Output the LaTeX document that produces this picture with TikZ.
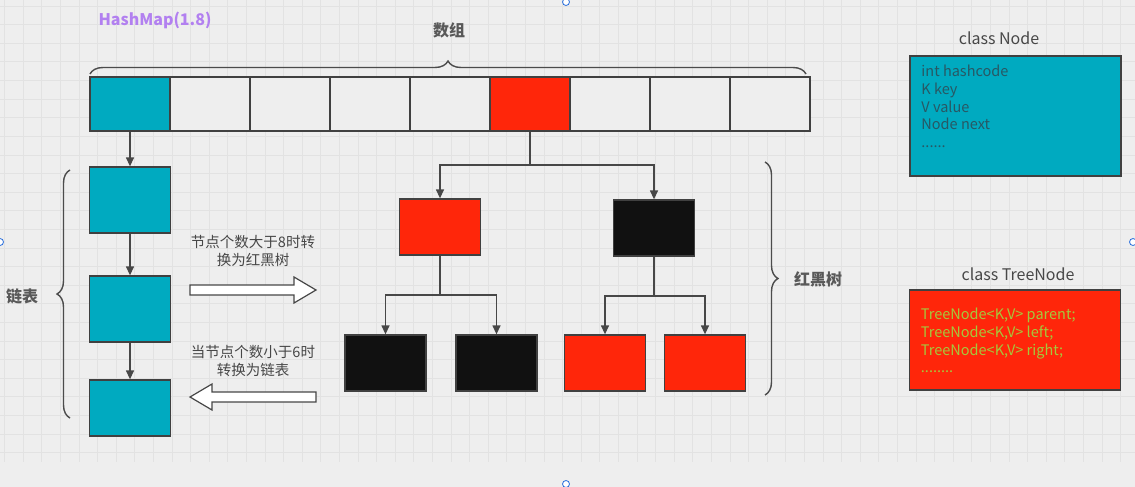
\documentclass[tikz,border=0pt]{standalone}
\usepackage{fontspec}
\setmainfont{Noto Sans CJK SC}
\usepackage{tikz}
\usetikzlibrary{arrows.meta,calc,decorations.pathreplacing}
\definecolor{hmbg}{RGB}{238,238,238}
\definecolor{hmgrid}{RGB}{226,226,226}
\definecolor{hmteal}{RGB}{0,170,192}
\definecolor{hmred}{RGB}{255,38,10}
\definecolor{hmblack}{RGB}{17,17,17}
\definecolor{hmpurple}{RGB}{178,128,240}
\definecolor{hmfield}{RGB}{40,88,100}
\definecolor{hmlime}{RGB}{165,200,60}
\definecolor{hmhandle}{RGB}{40,110,220}

\begin{document}
\begin{tikzpicture}[
    x=1pt,
    y=-1pt,
    every node/.style={font=\fontsize{12}{14}\selectfont, text=black!72},
    box/.style={draw=black!75, line width=1.3pt, inner sep=0pt,
        minimum width=81pt, minimum height=56pt},
    cell/.style={box, minimum width=80pt, minimum height=54pt},
    listnode/.style={box, fill=hmteal},
    rednode/.style={box, fill=hmred},
    blacknode/.style={box, fill=hmblack},
    classbox/.style={box, line width=1.5pt, minimum width=211pt,
        minimum height=120pt},
    fields/.style={anchor=north west, inner sep=0pt, align=left,
        font=\fontsize{14.5}{17.6}\selectfont},
    link/.style={draw=black!72, line width=1.3pt},
    imp/.style={link, -{Triangle[length=9pt,width=8pt]}},
    fat/.style={draw=black!72, line width=1.2pt, fill=white,
        line join=miter},
    brc/.style={draw=black!70, line width=1.4pt, decorate,
        decoration={brace, amplitude=13pt}},
    ann/.style={font=\fontsize{14.5}{17.5}\selectfont, align=center},
    tag/.style={font=\bfseries\fontsize{16}{18}\selectfont, text=black!65},
    caption/.style={font=\fontsize{16}{18}\selectfont},
    gridline/.style={draw=hmgrid, line width=0.6pt},
    handle/.style={draw=hmhandle, fill=white, line width=0.8pt}
]
    \useasboundingbox (0,0) rectangle (1135,487);
    \fill[hmbg] (0,0) rectangle (1135,487);
    \foreach \gx in {4.5,23.1,...,1135}
        \draw[gridline] (\gx,0) -- (\gx,462);
    \foreach \gy in {6,24.6,...,462}
        \draw[gridline] (0,\gy) -- (1135,\gy);

    \node[font=\bfseries\fontsize{16}{18}\selectfont, text=hmpurple]
        (title) at (155,20) {HashMap(1.8)};

    % array
    \foreach \i/\c in {0/hmteal,1/hmbg,2/hmbg,3/hmbg,4/hmbg,5/hmred,6/hmbg,7/hmbg,8/hmbg}
        \node[cell, fill=\c] (a\i) at ({130+80*\i},104) {};
    \draw[brc] (90,74) -- (806,74);
    \node[tag] (arr) at (449,30) {数组};

    % linked list
    \node[listnode, minimum height=66pt] (l1) at (130,200) {};
    \node[listnode, minimum height=66pt] (l2) at (130,309) {};
    \node[listnode] (l3) at (130,408) {};
    \draw[imp] (a0) -- (l1);
    \draw[imp] (l1) -- (l2);
    \draw[imp] (l2) -- (l3);
    \draw[brc] (70,418) -- (70,170);
    \node[tag] (list) at (22,296) {链表};

    % red-black tree
    \node[rednode] (t1) at (440,227) {};
    \node[blacknode] (t2) at (654,228) {};
    \node[blacknode] (b1) at (385.5,363) {};
    \node[blacknode] (b2) at (496.5,363) {};
    \node[rednode] (b3) at (605,363) {};
    \node[rednode] (b4) at (705,363) {};
    \coordinate (j0) at (530,165);
    \coordinate (j1) at (440,295);
    \coordinate (j2) at (654,296);
    \draw[link] (a5) -- (j0);
    \draw[imp] (j0) -| (t1);
    \draw[imp] (j0) -| (t2);
    \draw[link] (t1) -- (j1);
    \draw[imp] (j1) -| (b1);
    \draw[imp] (j1) -| (b2);
    \draw[link] (t2) -- (j2);
    \draw[imp] (j2) -| (b3);
    \draw[imp] (j2) -| (b4);
    \draw[brc] (765,162) -- (765,395);
    \node[tag] (tree) at (818,279) {红黑树};

    % conversions
    \node[ann] (togrow) at (253,251) {节点个数大于8时转\\换为红黑树};
    \draw[fat] (190,285) -- (294,285) -- (294,277) -- (316,290)
        -- (294,303) -- (294,295) -- (190,295) -- cycle;
    \node[ann] (toshrink) at (253,361) {当节点个数小于6时\\转换为链表};
    \draw[fat] (316,392) -- (212,392) -- (212,384) -- (190,397)
        -- (212,410) -- (212,402) -- (316,402) -- cycle;

    % classes
    \node[caption] (nodecap) at (999,38) {class Node};
    \node[classbox, fill=hmteal] (nodecls) at (1015.5,116) {};
    \node[fields, text=hmfield] (nodef) at ([shift={(12,10)}]nodecls.north west)
        {int hashcode\\K key\\V value\\Node next\\......};
    \node[caption] (treecap) at (1018,274) {class TreeNode};
    \node[classbox, fill=hmred, minimum height=100pt] (treecls) at (1015,340) {};
    \node[fields, text=hmlime] (treef) at ([shift={(12,19)}]treecls.north west)
        {TreeNode<K,V> parent;\\TreeNode<K,V> left;\\TreeNode<K,V> right;\\........};

    % selection handles
    \draw[handle] (566,2) circle[radius=3.5pt];
    \draw[handle] (0,242) circle[radius=3.5pt];
    \draw[handle] (1133,242) circle[radius=3.5pt];
    \draw[handle] (566,484) circle[radius=3.5pt];
\end{tikzpicture}
\end{document}
